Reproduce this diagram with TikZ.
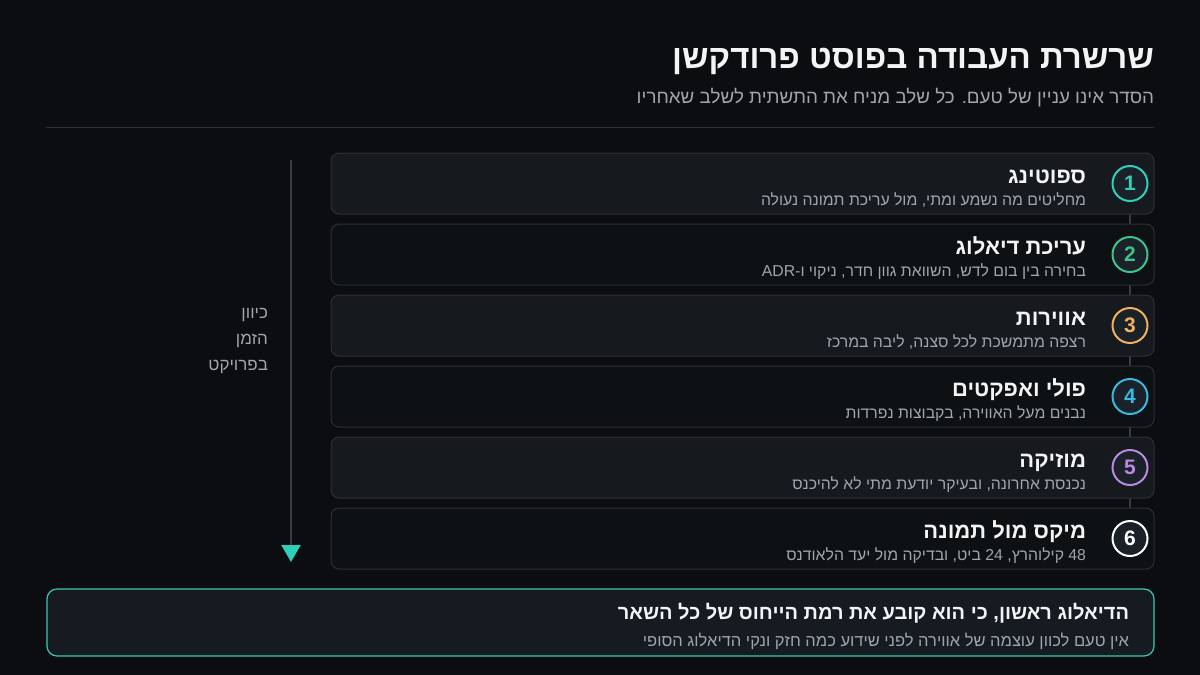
\documentclass[tikz,border=0pt]{standalone}
\usepackage{fontspec}
\setmainfont{Liberation Sans}
\newfontfamily\heb[Script=Hebrew]{Liberation Sans}
\TeXXeTstate=1
\usetikzlibrary{arrows.meta}
\definecolor{bgc}{HTML}{0B0D10}
\definecolor{cardodd}{HTML}{161A1F}
\definecolor{cardeven}{HTML}{0E1114}
\definecolor{cardline}{HTML}{2A3036}
\definecolor{circfill}{HTML}{1A2128}
\definecolor{txtw}{HTML}{F2F4F6}
\definecolor{txtg}{HTML}{9EA5AC}
\definecolor{linec}{HTML}{363C42}
\definecolor{cteal}{HTML}{2FD0B8}
\definecolor{cgreen}{HTML}{3CC48C}
\definecolor{corange}{HTML}{F0B060}
\definecolor{cblue}{HTML}{3AB8E0}
\definecolor{cpurple}{HTML}{B88AE0}
\definecolor{cwhite}{HTML}{FFFFFF}
\definecolor{boxfill}{HTML}{151B20}
\definecolor{boxline}{HTML}{3CC8B0}
\newcommand\rl[1]{{\heb\beginR #1\endR}}
\pgfdeclarelayer{bglayer}
\pgfdeclarelayer{midlayer}
\pgfsetlayers{bglayer,midlayer,main}
\begin{document}
\begin{tikzpicture}[x=1pt,y=-1pt,
  txt/.style={inner sep=0pt, outer sep=0pt, anchor=base east},
  cardbox/.style={draw=cardline, line width=1pt, rounded corners=8pt},
  numcirc/.style={circle, minimum size=35pt, inner sep=0pt, line width=2pt, fill=circfill, font=\fontsize{21}{24}\selectfont\bfseries},
  conn/.style={draw=linec, line width=1.2pt}]
\begin{pgfonlayer}{bglayer}
\fill[bgc] (0,0) rectangle (1200,675);
\end{pgfonlayer}
\useasboundingbox (0,0) rectangle (1200,675);

% title
\node[txt, text=txtw, font=\fontsize{33}{38}\selectfont\bfseries] (title) at (1154,68) {\rl{שרשרת העבודה בפוסט פרודקשן}};
\node[txt, text=txtg, font=\fontsize{18.8}{22}\selectfont] (subtitle) at (1154,103) {\rl{הסדר אינו עניין של טעם. כל שלב מניח את התשתית לשלב שאחריו}};
\coordinate (rl) at (46,127);
\coordinate (rr) at (1154,127);
\draw[draw=cardline, line width=1pt] (rl) -- (rr);

% cards
\foreach \i/\fillc/\col/\ttl/\sub in {
 1/cardodd/cteal/{ספוטינג}/{מחליטים מה נשמע ומתי, מול עריכת תמונה נעולה},
 2/cardeven/cgreen/{עריכת דיאלוג}/{בחירה בין בום לדש, השוואת גוון חדר, ניקוי ו-\beginL ADR\endL},
 3/cardodd/corange/{אווירות}/{רצפה מתמשכת לכל סצנה, ליבה במרכז},
 4/cardeven/cblue/{פולי ואפקטים}/{נבנים מעל האווירה, בקבוצות נפרדות},
 5/cardodd/cpurple/{מוזיקה}/{נכנסת אחרונה, ובעיקר יודעת מתי לא להיכנס},
 6/cardeven/cwhite/{מיקס מול תמונה}/{\beginL 48\endL{} קילוהרץ, \beginL 24\endL{} ביט, ובדיקה מול יעד הלאודנס}}
{
  \pgfmathsetmacro{\cy}{183.5+71*(\i-1)}
  \node[cardbox, fill=\fillc, minimum width=823pt, minimum height=61pt, inner sep=0pt] (card\i) at (742.5,\cy) {};
  \node[numcirc, draw=\col, text=\col] (c\i) at (1130,\cy) {\i};
  \node[txt, text=txtw, font=\fontsize{22}{26}\selectfont\bfseries] (t\i) at (1086,\cy) {\rl{\ttl}};
  \node[txt, text=txtg, font=\fontsize{15.8}{19}\selectfont] (s\i) at (1086,\cy+22) {\rl{\sub}};
}
\begin{pgfonlayer}{midlayer}
\foreach \a/\b in {1/2,2/3,3/4,4/5,5/6}{
  \draw[conn] (c\a.center) -- (c\b.center);
}
\end{pgfonlayer}

% time arrow
\coordinate (ta) at (291,160);
\coordinate (tb) at (291,562);
\draw[draw=linec, line width=2pt, -{Triangle[length=17pt,width=19pt,color=cteal,fill=cteal]}] (ta) -- (tb);
\node[txt, text=txtg, font=\fontsize{17}{20}\selectfont] (l1) at (268,318) {\rl{כיוון}};
\node[txt, text=txtg, font=\fontsize{17}{20}\selectfont] (l2) at (268,344) {\rl{הזמן}};
\node[txt, text=txtg, font=\fontsize{17}{20}\selectfont] (l3) at (268,370) {\rl{בפרויקט}};

% bottom box
\node[draw=boxline, fill=boxfill, line width=1.2pt, rounded corners=10pt, minimum width=1107pt, minimum height=67pt, inner sep=0pt] (note) at (600.5,622.5) {};
\node[txt, text=txtw, font=\fontsize{20}{24}\selectfont\bfseries] (n1) at (1129,619) {\rl{הדיאלוג ראשון, כי הוא קובע את רמת הייחוס של כל השאר}};
\node[txt, text=txtg, font=\fontsize{16.5}{20}\selectfont] (n2) at (1129,646) {\rl{אין טעם לכוון עוצמה של אווירה לפני שידוע כמה חזק ונקי הדיאלוג הסופי}};
\end{tikzpicture}
\end{document}
